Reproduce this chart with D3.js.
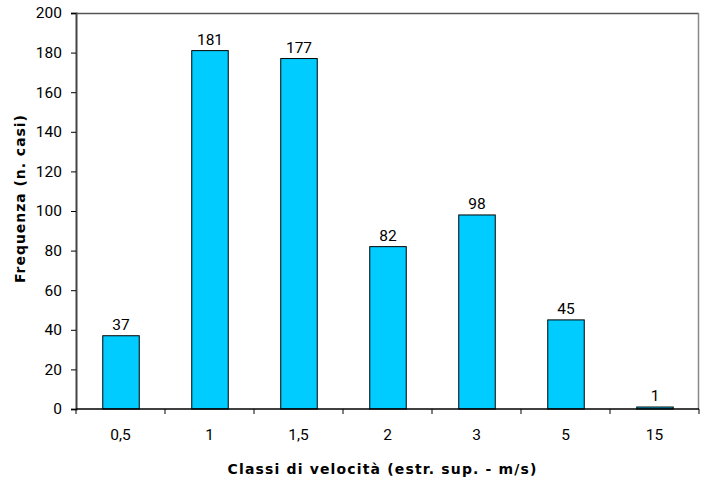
<!DOCTYPE html>
<html>
<head>
<meta charset="utf-8">
<script src="https://cdn.jsdelivr.net/npm/d3@7/dist/d3.min.js"></script>
<style>
  html, body { margin: 0; padding: 0; background: #fff; }
  svg { display: block; }
  text { fill: #000; }
</style>
</head>
<body>
<svg id="chart" width="711" height="490"></svg>
<script>
// Velocity classes (upper bound, m/s) and number of cases
const categories = ["0,5", "1", "1,5", "2", "3", "5", "15"];
const counts = [37, 181, 177, 82, 98, 45, 1];
const yTicks = [0, 20, 40, 60, 80, 100, 120, 140, 160, 180, 200];

const svg = d3.select("#chart");
const margin = { left: 76, right: 12, top: 13, bottom: 81 };
const W = 711, H = 490;
const plotW = W - margin.left - margin.right;
const plotH = H - margin.top - margin.bottom;
const FONT = "Roboto, 'Liberation Sans', Arial, sans-serif";
const TITLE_FONT = "'DejaVu Sans', Verdana, sans-serif";

const x = d3.scaleBand().domain(categories).range([margin.left, margin.left + plotW])
  .paddingInner(0.59).paddingOuter(0.295);
const xb = d3.scaleBand().domain(categories).range([margin.left, margin.left + plotW]);
const y = d3.scaleLinear().domain([0, 200]).range([margin.top + plotH, margin.top]);

// Frame: top and right borders
svg.append("line").attr("x1", margin.left).attr("x2", margin.left + plotW)
  .attr("y1", margin.top + 0.5).attr("y2", margin.top + 0.5)
  .attr("stroke", "#555").attr("stroke-width", 1.5);
svg.append("line").attr("x1", margin.left + plotW - 0.5).attr("x2", margin.left + plotW - 0.5)
  .attr("y1", margin.top).attr("y2", margin.top + plotH)
  .attr("stroke", "#888").attr("stroke-width", 1.5);

// Bars
svg.append("g").selectAll("rect").data(counts).join("rect")
  .attr("x", (d, i) => x(categories[i]) + 0.5)
  .attr("y", d => y(d))
  .attr("width", x.bandwidth())
  .attr("height", d => y(0) - y(d))
  .attr("fill", "#00ccff")
  .attr("stroke", "#000")
  .attr("stroke-width", 1);

// Value labels
svg.append("g").selectAll("text").data(counts).join("text")
  .attr("x", (d, i) => x(categories[i]) + x.bandwidth() / 2 + 0.5)
  .attr("y", d => y(d) - 6)
  .attr("text-anchor", "middle")
  .style("font-family", FONT)
  .style("font-size", "15.5px")
  .text(d => d);

// Y axis
const yAxis = d3.axisLeft(y).tickValues(yTicks).tickSize(5).tickPadding(9);
const gy = svg.append("g").attr("transform", `translate(${margin.left},0)`).call(yAxis);
gy.select(".domain").attr("stroke", "#444").attr("stroke-width", 2);
gy.selectAll(".tick line").attr("stroke", "#000");
gy.selectAll(".tick text").style("font-size", "15.5px").style("font-family", FONT);

// X axis: ticks at category boundaries
const gx = svg.append("g").attr("transform", `translate(0,${margin.top + plotH})`);
gx.append("line").attr("x1", margin.left).attr("x2", margin.left + plotW)
  .attr("stroke", "#000").attr("stroke-width", 1.5);
const bounds = categories.map(c => xb(c)).concat([margin.left + plotW]);
gx.selectAll(".bt").data(bounds).join("line").attr("class", "bt")
  .attr("x1", d => d).attr("x2", d => d).attr("y1", 0).attr("y2", 5)
  .attr("stroke", "#000");
gx.selectAll(".xl").data(categories).join("text").attr("class", "xl")
  .attr("x", c => xb(c) + xb.bandwidth() / 2)
  .attr("y", 31)
  .attr("text-anchor", "middle")
  .style("font-family", FONT)
  .style("font-size", "15.5px")
  .text(c => c);

// Axis titles
svg.append("text")
  .attr("x", 382).attr("y", 474)
  .attr("text-anchor", "middle")
  .style("font-family", TITLE_FONT)
  .style("font-size", "14px").style("font-weight", "bold")
  .attr("textLength", 309).attr("lengthAdjust", "spacing")
  .text("Classi di velocità (estr. sup. - m/s)");
svg.append("text")
  .attr("transform", "translate(25,199) rotate(-90)")
  .attr("text-anchor", "middle")
  .style("font-family", TITLE_FONT)
  .style("font-size", "14px").style("font-weight", "bold")
  .attr("textLength", 168).attr("lengthAdjust", "spacing")
  .text("Frequenza (n. casi)");
</script>
</body>
</html>
